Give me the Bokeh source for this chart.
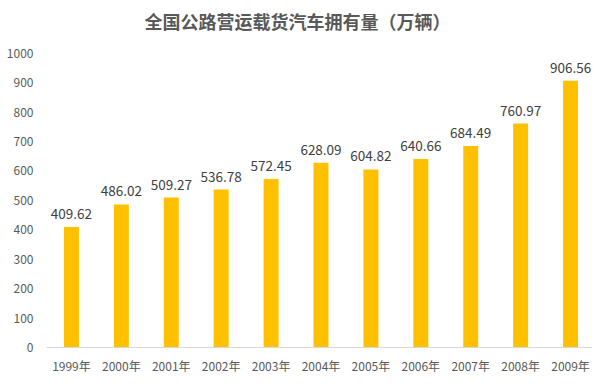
from bokeh.plotting import figure
from bokeh.models import ColumnDataSource, Range1d, FixedTicker, Label
from bokeh.core.properties import value
from bokeh.embed import file_html
from bokeh.resources import INLINE

title_text = "全国公路营运载货汽车拥有量（万辆）"
years = ["1999年", "2000年", "2001年", "2002年", "2003年", "2004年",
         "2005年", "2006年", "2007年", "2008年", "2009年"]
counts = [409.62, 486.02, 509.27, 536.78, 572.45, 628.09,
          604.82, 640.66, 684.49, 760.97, 906.56]
labels = ["%.2f" % v for v in counts]
y_ticks = [0, 100, 200, 300, 400, 500, 600, 700, 800, 900, 1000]

FONT = "Noto Sans CJK SC"

xs = list(range(len(years)))
src = ColumnDataSource(dict(x=xs, y=counts, lab=labels))

# frame spans the full height above the x axis; 1000 sits 53px below the top
p = figure(width=592, height=376, output_backend="svg", toolbar_location=None,
           x_range=Range1d(-0.5, 10.44), y_range=Range1d(0, 1179),
           min_border_left=46, min_border_right=0, min_border_top=0, min_border_bottom=27)

p.background_fill_color = "#ffffff"
p.border_fill_color = "#ffffff"
p.outline_line_color = None
p.grid.grid_line_color = None

p.vbar(x="x", top="y", width=0.30, source=src, color="#FFC000", line_color=None)
p.text(x="x", y="y", text="lab", source=src, text_align="center",
       text_baseline="bottom", y_offset=-8, text_font=value(FONT),
       text_font_size="13.5px", text_color="#404040")

title = Label(x=251, y=327, x_units="screen", y_units="screen", text=title_text,
              text_align="center", text_baseline="middle", text_font=FONT,
              text_font_size="18px", text_font_style="bold", text_color="#595959")
p.add_layout(title)

p.yaxis.ticker = FixedTicker(ticks=y_ticks)
p.yaxis.axis_line_color = None
p.yaxis.major_tick_line_color = None
p.yaxis.minor_tick_line_color = None
p.yaxis.major_tick_out = 0
p.yaxis.major_tick_in = 0
p.yaxis.major_label_text_font = FONT
p.yaxis.major_label_text_font_size = "12px"
p.yaxis.major_label_text_color = "#595959"
p.yaxis.major_label_standoff = 13

p.xaxis.ticker = FixedTicker(ticks=xs)
p.xaxis.major_label_overrides = {i: y for i, y in zip(xs, years)}
p.xaxis.axis_line_color = "#d9d9d9"
p.xaxis.axis_line_width = 1
p.xaxis.major_tick_line_color = None
p.xaxis.minor_tick_line_color = None
p.xaxis.major_tick_out = 0
p.xaxis.major_tick_in = 0
p.xaxis.major_label_text_font = FONT
p.xaxis.major_label_text_font_size = "12px"
p.xaxis.major_label_text_color = "#595959"
p.xaxis.major_label_standoff = 9

open("out.html", "w").write(file_html(p, INLINE))
